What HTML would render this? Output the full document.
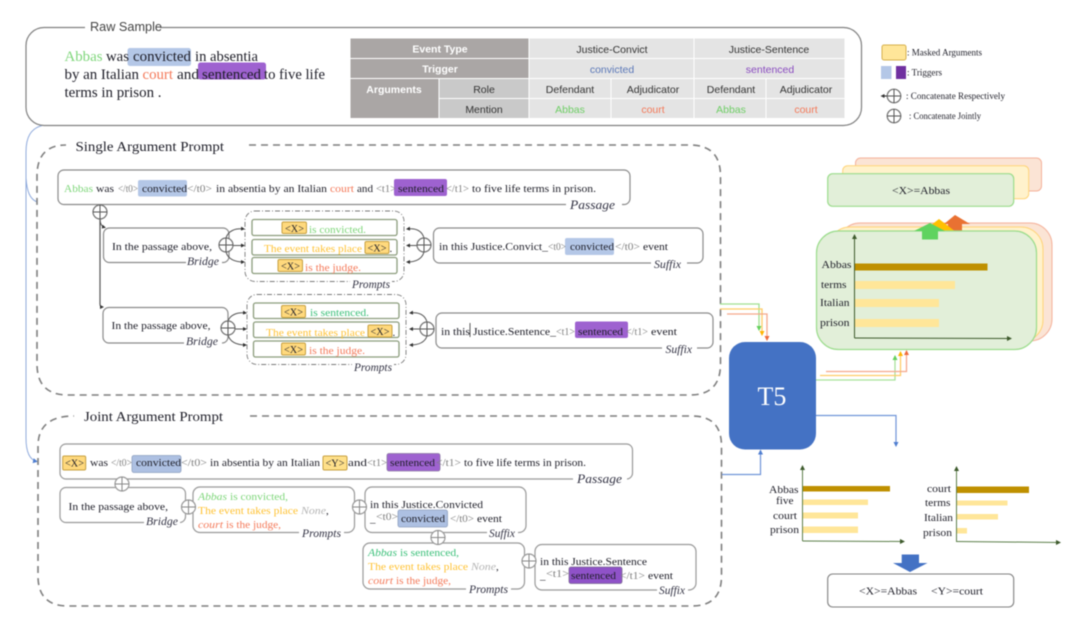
<!DOCTYPE html>
<html><head><meta charset="utf-8">
<style>
html,body{margin:0;padding:0;background:#fff;width:1080px;height:620px;overflow:hidden}
svg{display:block;filter:blur(.45px)}
text{font-family:"Liberation Serif",serif;font-size:11px;fill:#1e1e28;white-space:pre}
.s{font-family:"Liberation Sans",sans-serif}
.i{font-style:italic}
.l{font-style:italic;font-size:12px;fill:#333344}
.gr{fill:#808080}.g{fill:#7ed67a}.o{fill:#f47a5a}.y{fill:#ffc233}.t{fill:#3cc07a}.n{fill:#b4b4b4}
.box{fill:#fff;stroke:#8a8a8a;stroke-width:1.2}
.bx{fill:#ffd97d;stroke:#c6a040;stroke-width:1}
.bl{fill:#b4c7e7}.pu{fill:#9e62d0}
.in{fill:#fff;stroke:#8b9c7c;stroke-width:1.3}
.c{fill:#fff;stroke:#707070;stroke-width:1.2}
.ln{fill:none;stroke:#555;stroke-width:1}
.dd{fill:#fff;stroke:#7a7a7a;stroke-width:.9;stroke-dasharray:5 2 1 2}
.ds{fill:none;stroke:#7f7f7f;stroke-width:1.6;stroke-dasharray:7 5}
.th{fill:#fff;font-family:"Liberation Sans",sans-serif;font-size:10.5px;font-weight:bold;text-anchor:middle}
.td{font-family:"Liberation Sans",sans-serif;font-size:10.5px;text-anchor:middle;fill:#333}
.m{font-size:9px}
</style></head><body>
<svg width="1080" height="620" viewBox="0 0 1080 620" xmlns="http://www.w3.org/2000/svg">
<defs>
<marker id="ak" markerUnits="userSpaceOnUse" markerWidth="5" markerHeight="5" refX="3" refY="2" orient="auto"><path d="M0 0L4 2L0 4z" fill="#333"/></marker>
<marker id="ag" markerUnits="userSpaceOnUse" markerWidth="6" markerHeight="6" refX="4" refY="2.5" orient="auto"><path d="M0 0L5 2.5L0 5z" fill="#62d05a"/></marker>
<marker id="ay" markerUnits="userSpaceOnUse" markerWidth="6" markerHeight="6" refX="4" refY="2.5" orient="auto"><path d="M0 0L5 2.5L0 5z" fill="#ffb400"/></marker>
<marker id="ao" markerUnits="userSpaceOnUse" markerWidth="6" markerHeight="6" refX="4" refY="2.5" orient="auto"><path d="M0 0L5 2.5L0 5z" fill="#ee6a3a"/></marker>
<marker id="ab" markerUnits="userSpaceOnUse" markerWidth="6" markerHeight="6" refX="4" refY="2.5" orient="auto"><path d="M0 0L5 2.5L0 5z" fill="#4f7ed0"/></marker>
<marker id="ad" markerUnits="userSpaceOnUse" markerWidth="6" markerHeight="6" refX="4" refY="2.5" orient="auto"><path d="M0 0L5 2.5L0 5z" fill="#3d5a2c"/></marker>
</defs>

<!-- left blue curves -->
<path d="M44 125C30 128 26 138 26 152V438C26 452 30 460 37 461.5" fill="none" stroke="#8faadc" stroke-width="1" marker-end="url(#ab)"/>
<path d="M26 178C27 192 30 199 37 202" fill="none" stroke="#8faadc" stroke-width="1"/>

<!-- Raw sample -->
<rect x="26" y="27.5" width="835.5" height="98" rx="18" fill="#fff" stroke="#808080" stroke-width="1.2"/>
<rect x="85" y="22" width="75" height="10" fill="#fff"/>
<text class="s" x="90" y="31" style="font-size:12.5px;fill:#444" textLength="72" lengthAdjust="spacingAndGlyphs">Raw Sample</text>
<rect class="bl" x="127.5" y="48" width="63.5" height="18" rx="2.5"/>
<rect class="pu" x="198" y="62.5" width="68" height="17" rx="2.5"/>
<text class="g" style="font-size:15px" x="64.5" y="61" textLength="38" lengthAdjust="spacingAndGlyphs">Abbas</text>
<text style="font-size:15px" x="106" y="61" textLength="23" lengthAdjust="spacingAndGlyphs">was</text>
<text style="font-size:15px" x="133" y="61" textLength="58" lengthAdjust="spacingAndGlyphs">convicted</text>
<text style="font-size:15px" x="195" y="61" textLength="63" lengthAdjust="spacingAndGlyphs">in absentia</text>
<text style="font-size:15px" x="64.5" y="79" textLength="74.5" lengthAdjust="spacingAndGlyphs">by an Italian</text>
<text class="o" style="font-size:15px" x="142.5" y="79" textLength="30.5" lengthAdjust="spacingAndGlyphs">court</text>
<text style="font-size:15px" x="177" y="79" textLength="22" lengthAdjust="spacingAndGlyphs">and</text>
<text style="font-size:15px" x="202" y="79" textLength="59" lengthAdjust="spacingAndGlyphs">sentenced</text>
<text style="font-size:15px" x="264" y="79" textLength="61" lengthAdjust="spacingAndGlyphs">to five life</text>
<text style="font-size:15px" x="64.5" y="97" textLength="97" lengthAdjust="spacingAndGlyphs">terms in prison .</text>

<!-- Table -->
<g stroke="#fff" stroke-width="1">
<rect x="350" y="38" width="179" height="20.5" fill="#aaa6a5"/>
<rect x="350" y="58.5" width="179" height="20" fill="#aaa6a5"/>
<rect x="350" y="78.5" width="89" height="40" fill="#aaa6a5"/>
<rect x="439" y="78.5" width="90" height="20" fill="#c9c9c9"/>
<rect x="439" y="98.5" width="90" height="20" fill="#c9c9c9"/>
<rect x="529" y="38" width="165" height="20.5" fill="#e4e4e4"/>
<rect x="694" y="38" width="151" height="20.5" fill="#e4e4e4"/>
<rect x="529" y="58.5" width="165" height="20" fill="#e4e4e4"/>
<rect x="694" y="58.5" width="151" height="20" fill="#e4e4e4"/>
<rect x="529" y="78.5" width="82" height="20" fill="#e4e4e4"/>
<rect x="611" y="78.5" width="83" height="20" fill="#e4e4e4"/>
<rect x="694" y="78.5" width="72" height="20" fill="#e4e4e4"/>
<rect x="766" y="78.5" width="79" height="20" fill="#e4e4e4"/>
<rect x="529" y="98.5" width="82" height="20" fill="#e4e4e4"/>
<rect x="611" y="98.5" width="83" height="20" fill="#e4e4e4"/>
<rect x="694" y="98.5" width="72" height="20" fill="#e4e4e4"/>
<rect x="766" y="98.5" width="79" height="20" fill="#e4e4e4"/>
</g>
<text class="th" x="440" y="52.5">Event Type</text>
<text class="th" x="440" y="72.5">Trigger</text>
<text class="th" x="394" y="93">Arguments</text>
<text class="td" x="484" y="93">Role</text>
<text class="td" x="484" y="113">Mention</text>
<text class="td" x="612" y="53">Justice-Convict</text>
<text class="td" x="769" y="53">Justice-Sentence</text>
<text class="td" x="612" y="73" style="fill:#5b78b8">convicted</text>
<text class="td" x="770" y="73" style="fill:#8a4cc0">sentenced</text>
<text class="td" x="570" y="93">Defendant</text>
<text class="td" x="653" y="93">Adjudicator</text>
<text class="td" x="731" y="93">Defendant</text>
<text class="td" x="806" y="93">Adjudicator</text>
<text class="td" x="570" y="113" style="fill:#6fce66">Abbas</text>
<text class="td" x="653" y="113" style="fill:#f47a5a">court</text>
<text class="td" x="731" y="113" style="fill:#6fce66">Abbas</text>
<text class="td" x="806" y="113" style="fill:#f47a5a">court</text>

<!-- Legend -->
<rect x="882" y="45" width="24" height="15" rx="2" fill="#ffe699" stroke="#d6b04c"/>
<text class="m" x="907" y="55.5" textLength="75" lengthAdjust="spacingAndGlyphs">: Masked Arguments</text>
<rect x="881" y="66" width="10.5" height="13" fill="#b4c7e7"/>
<rect x="896" y="66" width="10" height="13" fill="#7030a0"/>
<text class="m" x="907" y="75.5" textLength="35" lengthAdjust="spacingAndGlyphs">: Triggers</text>
<path d="M887 96H881.5" stroke="#222" stroke-width="1" marker-end="url(#ak)"/>
<circle class="c" cx="894" cy="96" r="6.8"/><path d="M887 96H901M894 89V103" stroke="#555"/>
<text class="m" x="906" y="99" textLength="99" lengthAdjust="spacingAndGlyphs">: Concatenate Respectively</text>
<circle class="c" cx="894" cy="116" r="6.8"/><path d="M887 116H901M894 109V123" stroke="#555"/>
<text class="m" x="909" y="119" textLength="72" lengthAdjust="spacingAndGlyphs">: Concatenate Jointly</text>

<!-- Single Argument dashed -->
<path class="ds" d="M249 145H690Q720.5 145 720.5 176V364Q720.5 395 690 395H68Q37 395 37 364V176Q37 145 66 145"/>
<text x="75.5" y="151" style="font-size:14px" textLength="148.5" lengthAdjust="spacingAndGlyphs">Single Argument Prompt</text>

<!-- passage 1 -->
<rect class="box" x="58" y="170" width="572" height="34.5" rx="6"/>
<rect x="566" y="200" width="56" height="10" fill="#fff"/>
<text class="l" style="font-size:12.5px" x="570" y="209" textLength="45" lengthAdjust="spacingAndGlyphs">Passage</text>
<rect class="bl" x="138" y="180" width="49" height="16.5" rx="2"/>
<rect class="pu" x="394" y="179" width="53" height="17" rx="2"/>
<text class="g" x="64" y="192" textLength="29" lengthAdjust="spacingAndGlyphs">Abbas</text>
<text x="96" y="192" textLength="18" lengthAdjust="spacingAndGlyphs">was</text>
<text class="gr" x="118" y="192" textLength="20" lengthAdjust="spacingAndGlyphs">&lt;/t0&gt;</text>
<text x="142" y="192" textLength="45" lengthAdjust="spacingAndGlyphs">convicted</text>
<text class="gr" x="187" y="192" textLength="25" lengthAdjust="spacingAndGlyphs">&lt;/t0&gt;</text>
<text x="216" y="192" textLength="111" lengthAdjust="spacingAndGlyphs">in absentia by an Italian</text>
<text class="o" x="330" y="192" textLength="24" lengthAdjust="spacingAndGlyphs">court</text>
<text x="357" y="192" textLength="16" lengthAdjust="spacingAndGlyphs">and</text>
<text class="gr" x="376" y="192" textLength="20" lengthAdjust="spacingAndGlyphs">&lt;t1&gt;</text>
<text x="398" y="192" textLength="46" lengthAdjust="spacingAndGlyphs">sentenced</text>
<text class="gr" x="446" y="192" textLength="23" lengthAdjust="spacingAndGlyphs">&lt;/t1&gt;</text>
<text x="472" y="192" textLength="124" lengthAdjust="spacingAndGlyphs">to five life terms in prison.</text>

<path d="M100 219V304Q100 307 103 307" class="ln" style="stroke-width:1.2" marker-end="url(#ak)"/>
<path d="M100 219Q100 226 105 227.5" class="ln" marker-end="url(#ak)"/>
<circle class="c" cx="100" cy="212" r="7"/><path d="M93 212H107M100 205V219" stroke="#555"/>

<!-- bridge 1 -->
<rect class="box" x="103.5" y="228" width="125.5" height="34.5" rx="6"/>
<rect x="186" y="258" width="36" height="10" fill="#fff"/>
<text x="112" y="250" textLength="100" lengthAdjust="spacingAndGlyphs">In the passage above,</text>
<text class="l" x="187" y="265" textLength="32" lengthAdjust="spacingAndGlyphs">Bridge</text>

<!-- prompts 1 -->
<rect class="dd" x="245" y="211" width="159" height="70.5" rx="10"/>
<rect x="350" y="278" width="42" height="10" fill="#fff"/>
<text class="l" x="352" y="288" textLength="38" lengthAdjust="spacingAndGlyphs">Prompts</text>
<rect class="in" x="252" y="219.5" width="145" height="16" rx="2"/>
<rect class="in" x="252" y="239.5" width="145" height="15.5" rx="2"/>
<rect class="in" x="252" y="257.5" width="145" height="16" rx="2"/>
<rect class="bx" x="282" y="222" width="24.5" height="11.5" rx="1.5"/>
<text x="285" y="232" textLength="19" lengthAdjust="spacingAndGlyphs">&lt;X&gt;</text>
<text class="g" x="309" y="233" textLength="57" lengthAdjust="spacingAndGlyphs">is convicted.</text>
<text class="y" x="264" y="252" textLength="98" lengthAdjust="spacingAndGlyphs">The event takes place</text>
<rect class="bx" x="365" y="241.5" width="24" height="12" rx="1.5"/>
<text x="367.5" y="251.5" textLength="19" lengthAdjust="spacingAndGlyphs">&lt;X&gt;</text>
<text x="389.5" y="252">.</text>
<rect class="bx" x="278" y="259.5" width="24.5" height="12" rx="1.5"/>
<text x="281" y="269.5" textLength="19" lengthAdjust="spacingAndGlyphs">&lt;X&gt;</text>
<text class="o" x="305" y="271" textLength="56" lengthAdjust="spacingAndGlyphs">is the judge.</text>

<!-- fans 1 -->
<path class="ln" d="M226 238C228 231 235 228 244 229" marker-end="url(#ak)"/>
<path class="ln" d="M233 245.5H244" marker-end="url(#ak)"/>
<path class="ln" d="M226 252C228 259 235 262 244 262" marker-end="url(#ak)"/>
<circle class="c" cx="226" cy="245" r="7"/><path d="M219 245H233M226 238V252" stroke="#555"/>
<path class="ln" d="M424 238C422 231 416 228 407 229" marker-end="url(#ak)"/>
<path class="ln" d="M417 245.5H407" marker-end="url(#ak)"/>
<path class="ln" d="M424 252C422 259 416 262 407 262" marker-end="url(#ak)"/>
<circle class="c" cx="424" cy="245" r="7"/><path d="M417 245H431M424 238V252" stroke="#555"/>

<!-- suffix 1 -->
<rect class="box" x="433.5" y="228" width="269.5" height="35" rx="6"/>
<rect x="651" y="258" width="36" height="10" fill="#fff"/>
<text class="l" x="654" y="268" textLength="27" lengthAdjust="spacingAndGlyphs">Suffix</text>
<rect class="bl" x="565" y="238" width="49" height="17" rx="2"/>
<text x="439" y="250" textLength="109" lengthAdjust="spacingAndGlyphs">in this Justice.Convict_</text>
<text class="gr" x="548" y="250" textLength="18" lengthAdjust="spacingAndGlyphs">&lt;t0&gt;</text>
<text x="570" y="250" textLength="44" lengthAdjust="spacingAndGlyphs">convicted</text>
<text class="gr" x="615" y="250" textLength="25" lengthAdjust="spacingAndGlyphs">&lt;/t0&gt;</text>
<text x="643" y="250" textLength="25" lengthAdjust="spacingAndGlyphs">event</text>

<!-- bridge 2 -->
<rect class="box" x="103" y="307.5" width="125" height="35.5" rx="6"/>
<rect x="184" y="338" width="38" height="10" fill="#fff"/>
<text x="111.5" y="329" textLength="99" lengthAdjust="spacingAndGlyphs">In the passage above,</text>
<text class="l" x="186" y="345" textLength="32" lengthAdjust="spacingAndGlyphs">Bridge</text>

<!-- prompts 2 -->
<rect class="dd" x="247" y="294.5" width="159" height="70" rx="10"/>
<rect x="352" y="361" width="42" height="10" fill="#fff"/>
<text class="l" x="354" y="371" textLength="38" lengthAdjust="spacingAndGlyphs">Prompts</text>
<rect class="in" x="253.5" y="303" width="145.5" height="15.5" rx="2"/>
<rect class="in" x="253.5" y="322" width="145.5" height="15.5" rx="2"/>
<rect class="in" x="253.5" y="341" width="145.5" height="16" rx="2"/>
<rect class="bx" x="281.5" y="305.5" width="24" height="12" rx="1.5"/>
<text x="284" y="315.5" textLength="19" lengthAdjust="spacingAndGlyphs">&lt;X&gt;</text>
<text class="t" x="310" y="316" textLength="59" lengthAdjust="spacingAndGlyphs">is sentenced.</text>
<text class="y" x="266" y="336" textLength="99" lengthAdjust="spacingAndGlyphs">The event takes place</text>
<rect class="bx" x="368" y="325" width="24" height="12" rx="1.5"/>
<text x="370.5" y="335" textLength="19" lengthAdjust="spacingAndGlyphs">&lt;X&gt;</text>
<text x="392.5" y="336">.</text>
<rect class="bx" x="281.5" y="343" width="24" height="12" rx="1.5"/>
<text x="284" y="353" textLength="19" lengthAdjust="spacingAndGlyphs">&lt;X&gt;</text>
<text class="o" x="309" y="354" textLength="56" lengthAdjust="spacingAndGlyphs">is the judge.</text>

<!-- fans 2 -->
<path class="ln" d="M228 321C230 315 237 312 246 313" marker-end="url(#ak)"/>
<path class="ln" d="M235 329H246" marker-end="url(#ak)"/>
<path class="ln" d="M228 335C230 342 237 345 246 345" marker-end="url(#ak)"/>
<circle class="c" cx="228" cy="328" r="7"/><path d="M221 328H235M228 321V335" stroke="#555"/>
<path class="ln" d="M427 322C425 315 419 312 410 313" marker-end="url(#ak)"/>
<path class="ln" d="M420 329H410" marker-end="url(#ak)"/>
<path class="ln" d="M427 336C425 342 419 345 410 345" marker-end="url(#ak)"/>
<circle class="c" cx="427" cy="329" r="7"/><path d="M420 329H434M427 322V336" stroke="#555"/>

<!-- suffix 2 -->
<rect class="box" x="436" y="313" width="277" height="35" rx="6"/>
<rect x="662" y="343" width="35" height="10" fill="#fff"/>
<text class="l" x="665.5" y="353" textLength="26.5" lengthAdjust="spacingAndGlyphs">Suffix</text>
<rect class="pu" x="575" y="321.5" width="53" height="16.5" rx="2"/>
<text x="441" y="335" textLength="29" lengthAdjust="spacingAndGlyphs">in this</text>
<path d="M470 323V337" stroke="#333" stroke-width=".8"/>
<text x="473" y="335" textLength="83" lengthAdjust="spacingAndGlyphs">Justice.Sentence_</text>
<text class="gr" x="556" y="335" textLength="19" lengthAdjust="spacingAndGlyphs">&lt;t1&gt;</text>
<text x="578" y="335" textLength="45" lengthAdjust="spacingAndGlyphs">sentenced</text>
<text class="gr" x="626" y="335" textLength="22" lengthAdjust="spacingAndGlyphs">&lt;/t1&gt;</text>
<text x="651" y="335" textLength="26" lengthAdjust="spacingAndGlyphs">event</text>

<!-- Joint dashed -->
<path class="ds" d="M250 416H692Q721.5 416 721.5 446V576Q721.5 606 692 606H68Q38 606 38 576V446Q38 416 74 416"/>
<text x="84" y="421" style="font-size:14px" textLength="139" lengthAdjust="spacingAndGlyphs">Joint Argument Prompt</text>

<!-- joint passage -->
<rect class="box" x="60" y="444" width="572.5" height="35" rx="6" style="stroke:#999"/>
<rect x="573" y="474" width="54" height="10" fill="#fff"/>
<text class="l" style="font-size:13px" x="577" y="483" textLength="45" lengthAdjust="spacingAndGlyphs">Passage</text>
<rect class="bx" x="62.7" y="456" width="23" height="14" rx="1.5"/>
<text x="65" y="466.5" textLength="19" lengthAdjust="spacingAndGlyphs">&lt;X&gt;</text>
<text x="90" y="466" textLength="18" lengthAdjust="spacingAndGlyphs">was</text>
<text class="gr" x="111" y="466" textLength="21" lengthAdjust="spacingAndGlyphs">&lt;/t0&gt;</text>
<rect x="132" y="455.5" width="49" height="17" rx="2" fill="#adc0e2" stroke="#8ea0c0" stroke-width=".8"/>
<text x="136" y="466" textLength="45" lengthAdjust="spacingAndGlyphs">convicted</text>
<text class="gr" x="181" y="466" textLength="26" lengthAdjust="spacingAndGlyphs">&lt;/t0&gt;</text>
<text x="210" y="466" textLength="110" lengthAdjust="spacingAndGlyphs">in absentia by an Italian</text>
<rect class="bx" x="323" y="456" width="24" height="14" rx="1.5" style="fill:#ffe08a"/>
<text x="325.5" y="466.5" textLength="19" lengthAdjust="spacingAndGlyphs">&lt;Y&gt;</text>
<text x="348" y="466" textLength="19" lengthAdjust="spacingAndGlyphs">and</text>
<text class="gr" x="367" y="466" textLength="20" lengthAdjust="spacingAndGlyphs">&lt;t1&gt;</text>
<rect x="387" y="453.5" width="53" height="17.5" rx="2" fill="#9e62d0" stroke="#8a7aa0" stroke-width=".8"/>
<text x="390" y="466" textLength="45" lengthAdjust="spacingAndGlyphs">sentenced</text>
<text class="gr" x="436" y="466" textLength="25" lengthAdjust="spacingAndGlyphs">&lt;/t1&gt;</text>
<text x="464" y="466" textLength="122" lengthAdjust="spacingAndGlyphs">to five life terms in prison.</text>

<!-- joint bridge -->
<rect class="box" x="60" y="487.5" width="125.5" height="35" rx="6" style="stroke:#999"/>
<rect x="144" y="518" width="36" height="10" fill="#fff"/>
<text x="68.5" y="510" textLength="99.5" lengthAdjust="spacingAndGlyphs">In the passage above,</text>
<text class="l" x="146" y="525" textLength="32" lengthAdjust="spacingAndGlyphs">Bridge</text>
<circle class="c" cx="122" cy="484" r="7" style="stroke:#999"/><path d="M115 484H129M122 477V491" stroke="#888"/>

<!-- joint prompts 1 -->
<rect class="box" x="193" y="487" width="161.5" height="45.5" rx="7" style="stroke:#999"/>
<rect x="299" y="528" width="45" height="10" fill="#fff"/>
<text class="l" x="302" y="537" textLength="39" lengthAdjust="spacingAndGlyphs">Prompts</text>
<text class="g i" x="198" y="500" textLength="29" lengthAdjust="spacingAndGlyphs">Abbas</text>
<text class="g" x="230" y="500" textLength="58" lengthAdjust="spacingAndGlyphs">is convicted,</text>
<text class="y" x="198" y="514" textLength="100" lengthAdjust="spacingAndGlyphs">The event takes place</text>
<text class="n i" x="301" y="514" textLength="25" lengthAdjust="spacingAndGlyphs">None</text>
<text x="326" y="514">,</text>
<text class="o i" x="198" y="528" textLength="25" lengthAdjust="spacingAndGlyphs">court</text>
<text class="o" x="226" y="528" textLength="55" lengthAdjust="spacingAndGlyphs">is the judge,</text>
<circle class="c" cx="188.5" cy="507" r="7" style="stroke:#999"/><path d="M181.5 507H195.5M188.5 500V514" stroke="#888"/>

<!-- joint suffix 1 -->
<rect class="box" x="365" y="487" width="161" height="45.5" rx="7" style="stroke:#999"/>
<rect x="487" y="528" width="31" height="10" fill="#fff"/>
<text class="l" x="489" y="537" textLength="26" lengthAdjust="spacingAndGlyphs">Suffix</text>
<text x="370" y="508" textLength="113" lengthAdjust="spacingAndGlyphs">in this Justice.Convicted</text>
<text x="370" y="522">_</text>
<text class="gr" x="376" y="520" textLength="22" lengthAdjust="spacingAndGlyphs">&lt;t0&gt;</text>
<rect x="398" y="510" width="49.5" height="17" rx="2" fill="#adc0e2" stroke="#8ea0c0" stroke-width=".8"/>
<text x="401" y="522" textLength="44" lengthAdjust="spacingAndGlyphs">convicted</text>
<text class="gr" x="450" y="522" textLength="24" lengthAdjust="spacingAndGlyphs">&lt;/t0&gt;</text>
<text x="477" y="522" textLength="25" lengthAdjust="spacingAndGlyphs">event</text>
<circle class="c" cx="359.5" cy="507" r="7" style="stroke:#999"/><path d="M352.5 507H366.5M359.5 500V514" stroke="#888"/>

<!-- joint prompts 2 -->
<rect class="box" x="363" y="543" width="161.5" height="46" rx="7" style="stroke:#999"/>
<rect x="466" y="585" width="45" height="10" fill="#fff"/>
<text class="l" x="469" y="593" textLength="39" lengthAdjust="spacingAndGlyphs">Prompts</text>
<text class="t i" x="368" y="556" textLength="29" lengthAdjust="spacingAndGlyphs">Abbas</text>
<text class="t" x="400" y="556" textLength="59" lengthAdjust="spacingAndGlyphs">is sentenced,</text>
<text class="y" x="368" y="570" textLength="100" lengthAdjust="spacingAndGlyphs">The event takes place</text>
<text class="n i" x="471" y="570" textLength="25" lengthAdjust="spacingAndGlyphs">None</text>
<text x="496" y="570">,</text>
<text class="o i" x="368" y="584" textLength="25" lengthAdjust="spacingAndGlyphs">court</text>
<text class="o" x="396" y="584" textLength="55" lengthAdjust="spacingAndGlyphs">is the judge,</text>
<circle class="c" cx="438" cy="537.5" r="7" style="stroke:#999"/><path d="M431 537.5H445M438 530.5V544.5" stroke="#888"/>

<!-- joint suffix 2 -->
<rect class="box" x="535" y="544.5" width="161" height="45.5" rx="7" style="stroke:#999"/>
<rect x="657" y="586" width="31" height="10" fill="#fff"/>
<text class="l" x="659" y="594" textLength="26" lengthAdjust="spacingAndGlyphs">Suffix</text>
<text x="540" y="565" textLength="107" lengthAdjust="spacingAndGlyphs">in this Justice.Sentence</text>
<text x="540" y="579">_</text>
<text class="gr" x="546" y="577" textLength="23" lengthAdjust="spacingAndGlyphs">&lt;t1&gt;</text>
<rect x="569" y="567" width="53" height="16.5" rx="2" fill="#8f52c8" stroke="#7a6a90" stroke-width=".8"/>
<text x="571" y="579" textLength="45" lengthAdjust="spacingAndGlyphs">sentenced</text>
<text class="gr" x="620" y="579" textLength="25" lengthAdjust="spacingAndGlyphs">&lt;/t1&gt;</text>
<text x="648" y="579" textLength="25" lengthAdjust="spacingAndGlyphs">event</text>
<circle class="c" cx="529" cy="561" r="7" style="stroke:#999"/><path d="M522 561H536M529 554V568" stroke="#888"/>

<!-- connectors into T5 -->
<path d="M720 304H759V330" fill="none" stroke="#a0e090" stroke-width="1.3" marker-end="url(#ag)"/>
<path d="M720 309H762V335" fill="none" stroke="#ffcc66" stroke-width="1.3" marker-end="url(#ay)"/>
<path d="M727 314H767V340" fill="none" stroke="#f4a88c" stroke-width="1.3" marker-end="url(#ao)"/>
<path d="M722 474.5H760.5V450.5" fill="none" stroke="#6f94d8" stroke-width="1.2" marker-end="url(#ab)"/>

<!-- T5 -->
<rect x="729" y="342" width="87" height="107.5" rx="16" fill="#4472c4"/>
<text x="772" y="405" text-anchor="middle" style="font-size:26px;fill:#fff">T5</text>
<path d="M816 415.5H896V446" fill="none" stroke="#6f94d8" stroke-width="1.2" marker-end="url(#ab)"/>

<!-- big stack -->
<rect x="838" y="223" width="214" height="118" rx="22" fill="#fbe4d5" stroke="#f4b19a"/>
<rect x="828" y="227" width="215" height="115" rx="22" fill="#fff2cc" stroke="#ffd479"/>
<path d="M955 215L970 224H962V231H948V224H944Z" fill="#e97132"/>
<path d="M939 219L956 232H922Z" fill="#ffc000"/>
<rect x="816.5" y="231" width="220" height="118.5" rx="22" fill="#e2efd9" stroke="#9bdc8c" stroke-width="1.2"/>
<path d="M930 223L945 231H938V239.5H922V231H914Z" fill="#5fd35f"/>

<path d="M854.5 338V235" fill="none" stroke="#3d5a2c" stroke-width="1" marker-end="url(#ad)"/>
<path d="M854.5 338L1011 338.5" fill="none" stroke="#3d5a2c" stroke-width="1" marker-end="url(#ad)"/>
<rect x="855" y="263.5" width="132.5" height="7" fill="#bf9000"/>
<rect x="855" y="281" width="100" height="8" fill="#ffe699"/>
<rect x="855" y="299" width="84" height="8" fill="#ffe699"/>
<rect x="855" y="319" width="84" height="8" fill="#ffe699"/>
<text x="821.5" y="268" textLength="30" lengthAdjust="spacingAndGlyphs">Abbas</text>
<text x="821" y="288" textLength="25.5" lengthAdjust="spacingAndGlyphs">terms</text>
<text x="820" y="306" textLength="29.5" lengthAdjust="spacingAndGlyphs">Italian</text>
<text x="820" y="326" textLength="29.5" lengthAdjust="spacingAndGlyphs">prison</text>

<path d="M816 380H895V356" fill="none" stroke="#a8e29a" stroke-width="1.3" marker-end="url(#ag)"/>
<path d="M820 375.5H900.5V352" fill="none" stroke="#ffcc66" stroke-width="1.3" marker-end="url(#ay)"/>
<path d="M826 371.5H906.5V351" fill="none" stroke="#f4a88c" stroke-width="1.3" marker-end="url(#ao)"/>

<!-- top stack -->
<rect x="855.5" y="158" width="186" height="33" rx="5" fill="#fbe4d5" stroke="#f4b19a"/>
<rect x="842.7" y="165.7" width="186" height="33" rx="5" fill="#fff2cc" stroke="#ffd479"/>
<rect x="827.7" y="173.7" width="186" height="32.6" rx="5" fill="#e2efd9" stroke="#9bdc8c" stroke-width="1.2"/>
<text x="892" y="194" textLength="58" lengthAdjust="spacingAndGlyphs">&lt;X&gt;=Abbas</text>

<!-- lower-left chart -->
<path d="M802.5 541V466" fill="none" stroke="#5c7f4a" marker-end="url(#ad)"/>
<path d="M802.5 541L904 541.5" fill="none" stroke="#5c7f4a" marker-end="url(#ad)"/>
<rect x="803" y="486" width="87" height="5.5" fill="#bf9000"/>
<rect x="803" y="499.5" width="65" height="5.5" fill="#ffe699"/>
<rect x="803" y="512.5" width="55" height="6" fill="#ffe699"/>
<rect x="803" y="526.5" width="55" height="6.5" fill="#ffe699"/>
<text x="769" y="493" textLength="29.5" lengthAdjust="spacingAndGlyphs">Abbas</text>
<text x="776" y="504" textLength="17.5" lengthAdjust="spacingAndGlyphs">five</text>
<text x="773" y="519" textLength="24" lengthAdjust="spacingAndGlyphs">court</text>
<text x="770" y="533" textLength="29" lengthAdjust="spacingAndGlyphs">prison</text>

<!-- lower-right chart -->
<path d="M956.5 542V467" fill="none" stroke="#5c7f4a" marker-end="url(#ad)"/>
<path d="M956.5 541.5L1060 542.5" fill="none" stroke="#5c7f4a" marker-end="url(#ad)"/>
<rect x="957" y="486.5" width="72" height="6.5" fill="#bf9000"/>
<rect x="957" y="500.5" width="50.5" height="5" fill="#ffe699"/>
<rect x="957" y="514" width="41" height="5.5" fill="#ffe699"/>
<rect x="957" y="528" width="10" height="5.5" fill="#ffe699"/>
<text x="927" y="492" textLength="24" lengthAdjust="spacingAndGlyphs">court</text>
<text x="925" y="506" textLength="25.5" lengthAdjust="spacingAndGlyphs">terms</text>
<text x="924" y="521" textLength="29" lengthAdjust="spacingAndGlyphs">Italian</text>
<text x="923" y="536" textLength="29" lengthAdjust="spacingAndGlyphs">prison</text>

<!-- down arrow + result -->
<path d="M901.7 554.5H919V563H927.5L910 572L893 563H901.7Z" fill="#4472c4"/>
<rect x="827.7" y="574" width="186" height="33" rx="5" fill="#fff" stroke="#808080" stroke-width="1.1"/>
<text x="859" y="594.5" textLength="58" lengthAdjust="spacingAndGlyphs">&lt;X&gt;=Abbas</text>
<text x="931" y="594.5" textLength="52" lengthAdjust="spacingAndGlyphs">&lt;Y&gt;=court</text>
</svg>
</body></html>
